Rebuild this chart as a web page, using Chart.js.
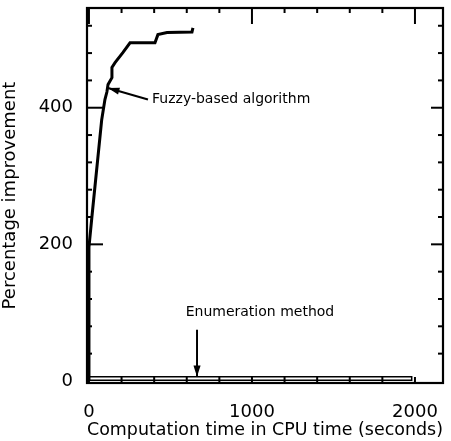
<!DOCTYPE html>
<html>
<head>
<meta charset="utf-8">
<script src="https://cdn.jsdelivr.net/npm/chart.js@4/dist/chart.umd.min.js"></script>
<style>
	html, body { margin: 0; padding: 0; background: #fff; }
	#wrap { width: 451px; height: 441px; }
</style>
</head>
<body>
<div id="wrap"><canvas id="improvement"></canvas></div>
<script>
const fuzzyTime = [0, 0, 18, 78, 98, 110, 117, 141, 141, 160, 209, 252, 405, 423, 479, 632, 638];
const fuzzyImprovement = [0, 196, 240, 382, 412, 423, 434, 444, 459, 466, 481, 495, 495, 507, 510, 511, 517];
const enumTime = [0, 1980, 1980, 0, 0];
const enumImprovement = [1, 1, 6, 6, 1];
const xTicks = [0, 1000, 2000];
const yTicks = [0, 200, 400];
const xMinorTicks = [200, 400, 600, 800, 1200, 1400, 1600, 1800];
const yMinorTicks = [40, 80, 120, 160, 240, 280, 320, 360, 440, 480, 520];
const notes = [
	{ text: 'Fuzzy-based algorithm', x: 387, y: 412, from: [362, 412], to: [117, 429], align: 'left' },
	{ text: 'Enumeration method', x: 1049, y: 101, from: [663, 75], to: [663, 6], align: 'center' },
];

const font = '"DejaVu Sans", sans-serif';

const toPoints = (xs, ys) => xs.map((x, i) => ({ x: x, y: ys[i] }));

const frame = {
	id: 'frame',
	afterDraw(chart) {
		const { ctx, chartArea: a, scales: { x, y } } = chart;
		ctx.save();
		ctx.strokeStyle = '#000';
		ctx.lineWidth = 2.2;
		ctx.strokeRect(a.left, a.top, a.right - a.left, a.bottom - a.top);
		const tick = (x1, y1, x2, y2) => {
			ctx.beginPath();
			ctx.moveTo(x1, y1);
			ctx.lineTo(x2, y2);
			ctx.stroke();
		};
		ctx.lineWidth = 2;
		xTicks.concat(xMinorTicks).forEach(v => {
			const px = x.getPixelForValue(v);
			const len = xTicks.includes(v) ? 16 : 5;
			tick(px, a.top, px, a.top + len);
			tick(px, a.bottom, px, a.bottom - 6);
		});
		yTicks.concat(yMinorTicks).forEach(v => {
			const py = y.getPixelForValue(v);
			const len = yTicks.includes(v) ? 16 : 5;
			if (v > 0) {
				tick(a.left, py, a.left + len, py);
				tick(a.right, py, a.right - (yTicks.includes(v) ? 12 : 5), py);
			}
		});
		ctx.fillStyle = '#000';
		ctx.font = '14px ' + font;
		ctx.textBaseline = 'middle';
		notes.forEach(n => {
			ctx.textAlign = n.align;
			ctx.fillText(n.text, x.getPixelForValue(n.x), y.getPixelForValue(n.y));
			const x1 = x.getPixelForValue(n.from[0]), y1 = y.getPixelForValue(n.from[1]);
			const x2 = x.getPixelForValue(n.to[0]), y2 = y.getPixelForValue(n.to[1]);
			ctx.lineWidth = 2;
			tick(x1, y1, x2, y2);
			const ang = Math.atan2(y2 - y1, x2 - x1);
			ctx.beginPath();
			ctx.moveTo(x2, y2);
			ctx.lineTo(x2 - 12 * Math.cos(ang - 0.3), y2 - 12 * Math.sin(ang - 0.3));
			ctx.lineTo(x2 - 12 * Math.cos(ang + 0.3), y2 - 12 * Math.sin(ang + 0.3));
			ctx.closePath();
			ctx.fill();
		});
		ctx.restore();
	}
};

new Chart(document.getElementById('improvement'), {
	type: 'line',
	data: {
		datasets: [
			{
				label: 'Fuzzy-based algorithm',
				data: toPoints(fuzzyTime, fuzzyImprovement),
				borderColor: '#000',
				borderWidth: 3,
				pointRadius: 0,
				tension: 0,
			},
			{
				label: 'Enumeration method',
				data: toPoints(enumTime, enumImprovement),
				borderColor: '#000',
				borderWidth: 1.5,
				pointRadius: 0,
				tension: 0,
			},
		],
	},
	options: {
		responsive: true,
		maintainAspectRatio: false,
		animation: false,
		layout: { padding: { top: 8, right: 8, left: 0, bottom: 0 } },
		plugins: { legend: { display: false }, tooltip: { enabled: false } },
		scales: {
			x: {
				type: 'linear',
				min: -12,
				max: 2172,
				grid: { display: false, drawTicks: false },
				border: { display: false },
				afterBuildTicks: s => { s.ticks = xTicks.map(v => ({ value: v })); },
				afterFit: s => { s.height = 58; s.paddingLeft = 0; s.paddingRight = 0; },
				ticks: { color: '#000', padding: 19, maxRotation: 0, callback: v => String(v), font: { family: font, size: 18 } },
				title: { display: true, text: 'Computation time in CPU time (seconds)', color: '#000', padding: 0, font: { family: font, size: 18 } },
			},
			y: {
				min: -3,
				max: 546,
				grid: { display: false, drawTicks: false },
				border: { display: false },
				afterBuildTicks: s => { s.ticks = yTicks.map(v => ({ value: v })); },
				afterFit: s => { s.width = 87; s.paddingTop = 0; s.paddingBottom = 0; },
				ticks: { color: '#000', padding: 14, callback: v => String(v), font: { family: font, size: 18 } },
				title: { display: true, text: 'Percentage improvement', color: '#000', padding: 0, font: { family: font, size: 18 } },
			},
		},
	},
	plugins: [frame],
});
</script>
</body>
</html>
